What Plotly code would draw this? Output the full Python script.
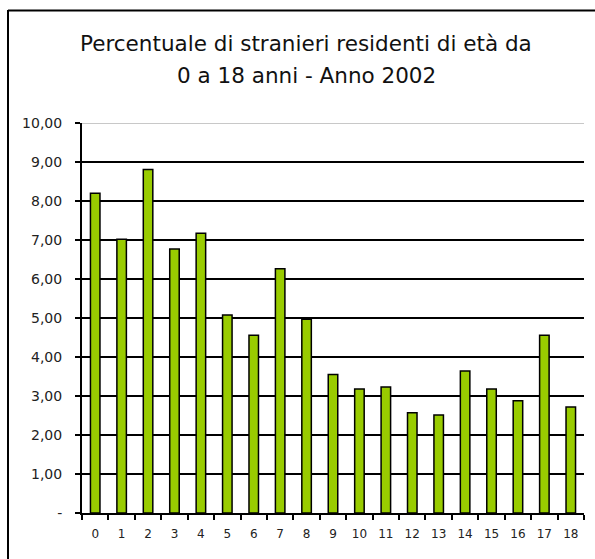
import plotly.graph_objects as go

ages = [str(i) for i in range(19)]
percent = [8.20, 7.02, 8.81, 6.77, 7.17, 5.08, 4.56, 6.26, 4.97, 3.55,
           3.18, 3.23, 2.57, 2.51, 3.64, 3.18, 2.88, 4.56, 2.72]
y_tickvals = [0, 1, 2, 3, 4, 5, 6, 7, 8, 9, 10]
y_ticktext = ["-", "1,00", "2,00", "3,00", "4,00", "5,00", "6,00", "7,00", "8,00", "9,00", "10,00"]
title_lines = ["Percentuale di stranieri residenti di età da", "0 a 18 anni - Anno 2002"]

W, H = 595, 559
L, R, T, B = 82, 584, 123, 513
pw, ph = R - L, B - T

def px2x(px):
    return (px - L) / pw

def py2y(py):
    return (B - py) / ph

FONT = "DejaVu Sans"

fig = go.Figure()
fig.add_trace(go.Bar(
    x=ages, y=percent, width=0.36,
    marker=dict(color="#99CC00", line=dict(color="black", width=1.5)),
))

shapes = [
    dict(type="line", xref="paper", yref="y", x0=0, x1=1, y0=10, y1=10,
         line=dict(color="#C8C8C8", width=2), layer="below"),
    dict(type="line", xref="paper", yref="paper", x0=px2x(8), x1=px2x(8),
         y0=py2y(10), y1=py2y(600), line=dict(color="black", width=2)),
    dict(type="line", xref="paper", yref="paper", x0=px2x(8), x1=px2x(640),
         y0=py2y(10.5), y1=py2y(10.5), line=dict(color="black", width=2)),
]

annotations = [
    dict(text=title_lines[0], xref="paper", yref="paper", x=px2x(306), y=py2y(43.5),
         showarrow=False, xanchor="center", yanchor="middle",
         font=dict(family=FONT, size=21.5, color="#111")),
    dict(text=title_lines[1], xref="paper", yref="paper", x=px2x(306), y=py2y(75.5),
         showarrow=False, xanchor="center", yanchor="middle",
         font=dict(family=FONT, size=21.5, color="#111")),
]

fig.update_layout(
    width=W, height=H,
    margin=dict(l=L, r=W - R, t=T, b=H - B, pad=0),
    paper_bgcolor="white", plot_bgcolor="white",
    showlegend=False, bargap=0.64,
    shapes=shapes, annotations=annotations,
    font=dict(family=FONT, color="#222"),
)
fig.update_xaxes(
    type="category", showgrid=False, showline=True, linecolor="black", linewidth=2,
    ticks="outside", tickson="boundaries", ticklen=5, tickwidth=1.5, tickcolor="black",
    tickfont=dict(family=FONT, size=12, color="#222"), ticklabelstandoff=9,
)
fig.update_yaxes(
    range=[0, 10], tickvals=y_tickvals, ticktext=y_ticktext,
    showgrid=True, gridcolor="black", gridwidth=2, zeroline=False,
    showline=True, linecolor="black", linewidth=2,
    ticks="outside", ticklen=5, tickwidth=1.5, tickcolor="black",
    tickfont=dict(family=FONT, size=14, color="#222"), ticklabelstandoff=10,
)

fig.write_html("out.html", config={"displayModeBar": False},
               post_script="document.body.style.margin='0';document.body.style.overflow='hidden';")
